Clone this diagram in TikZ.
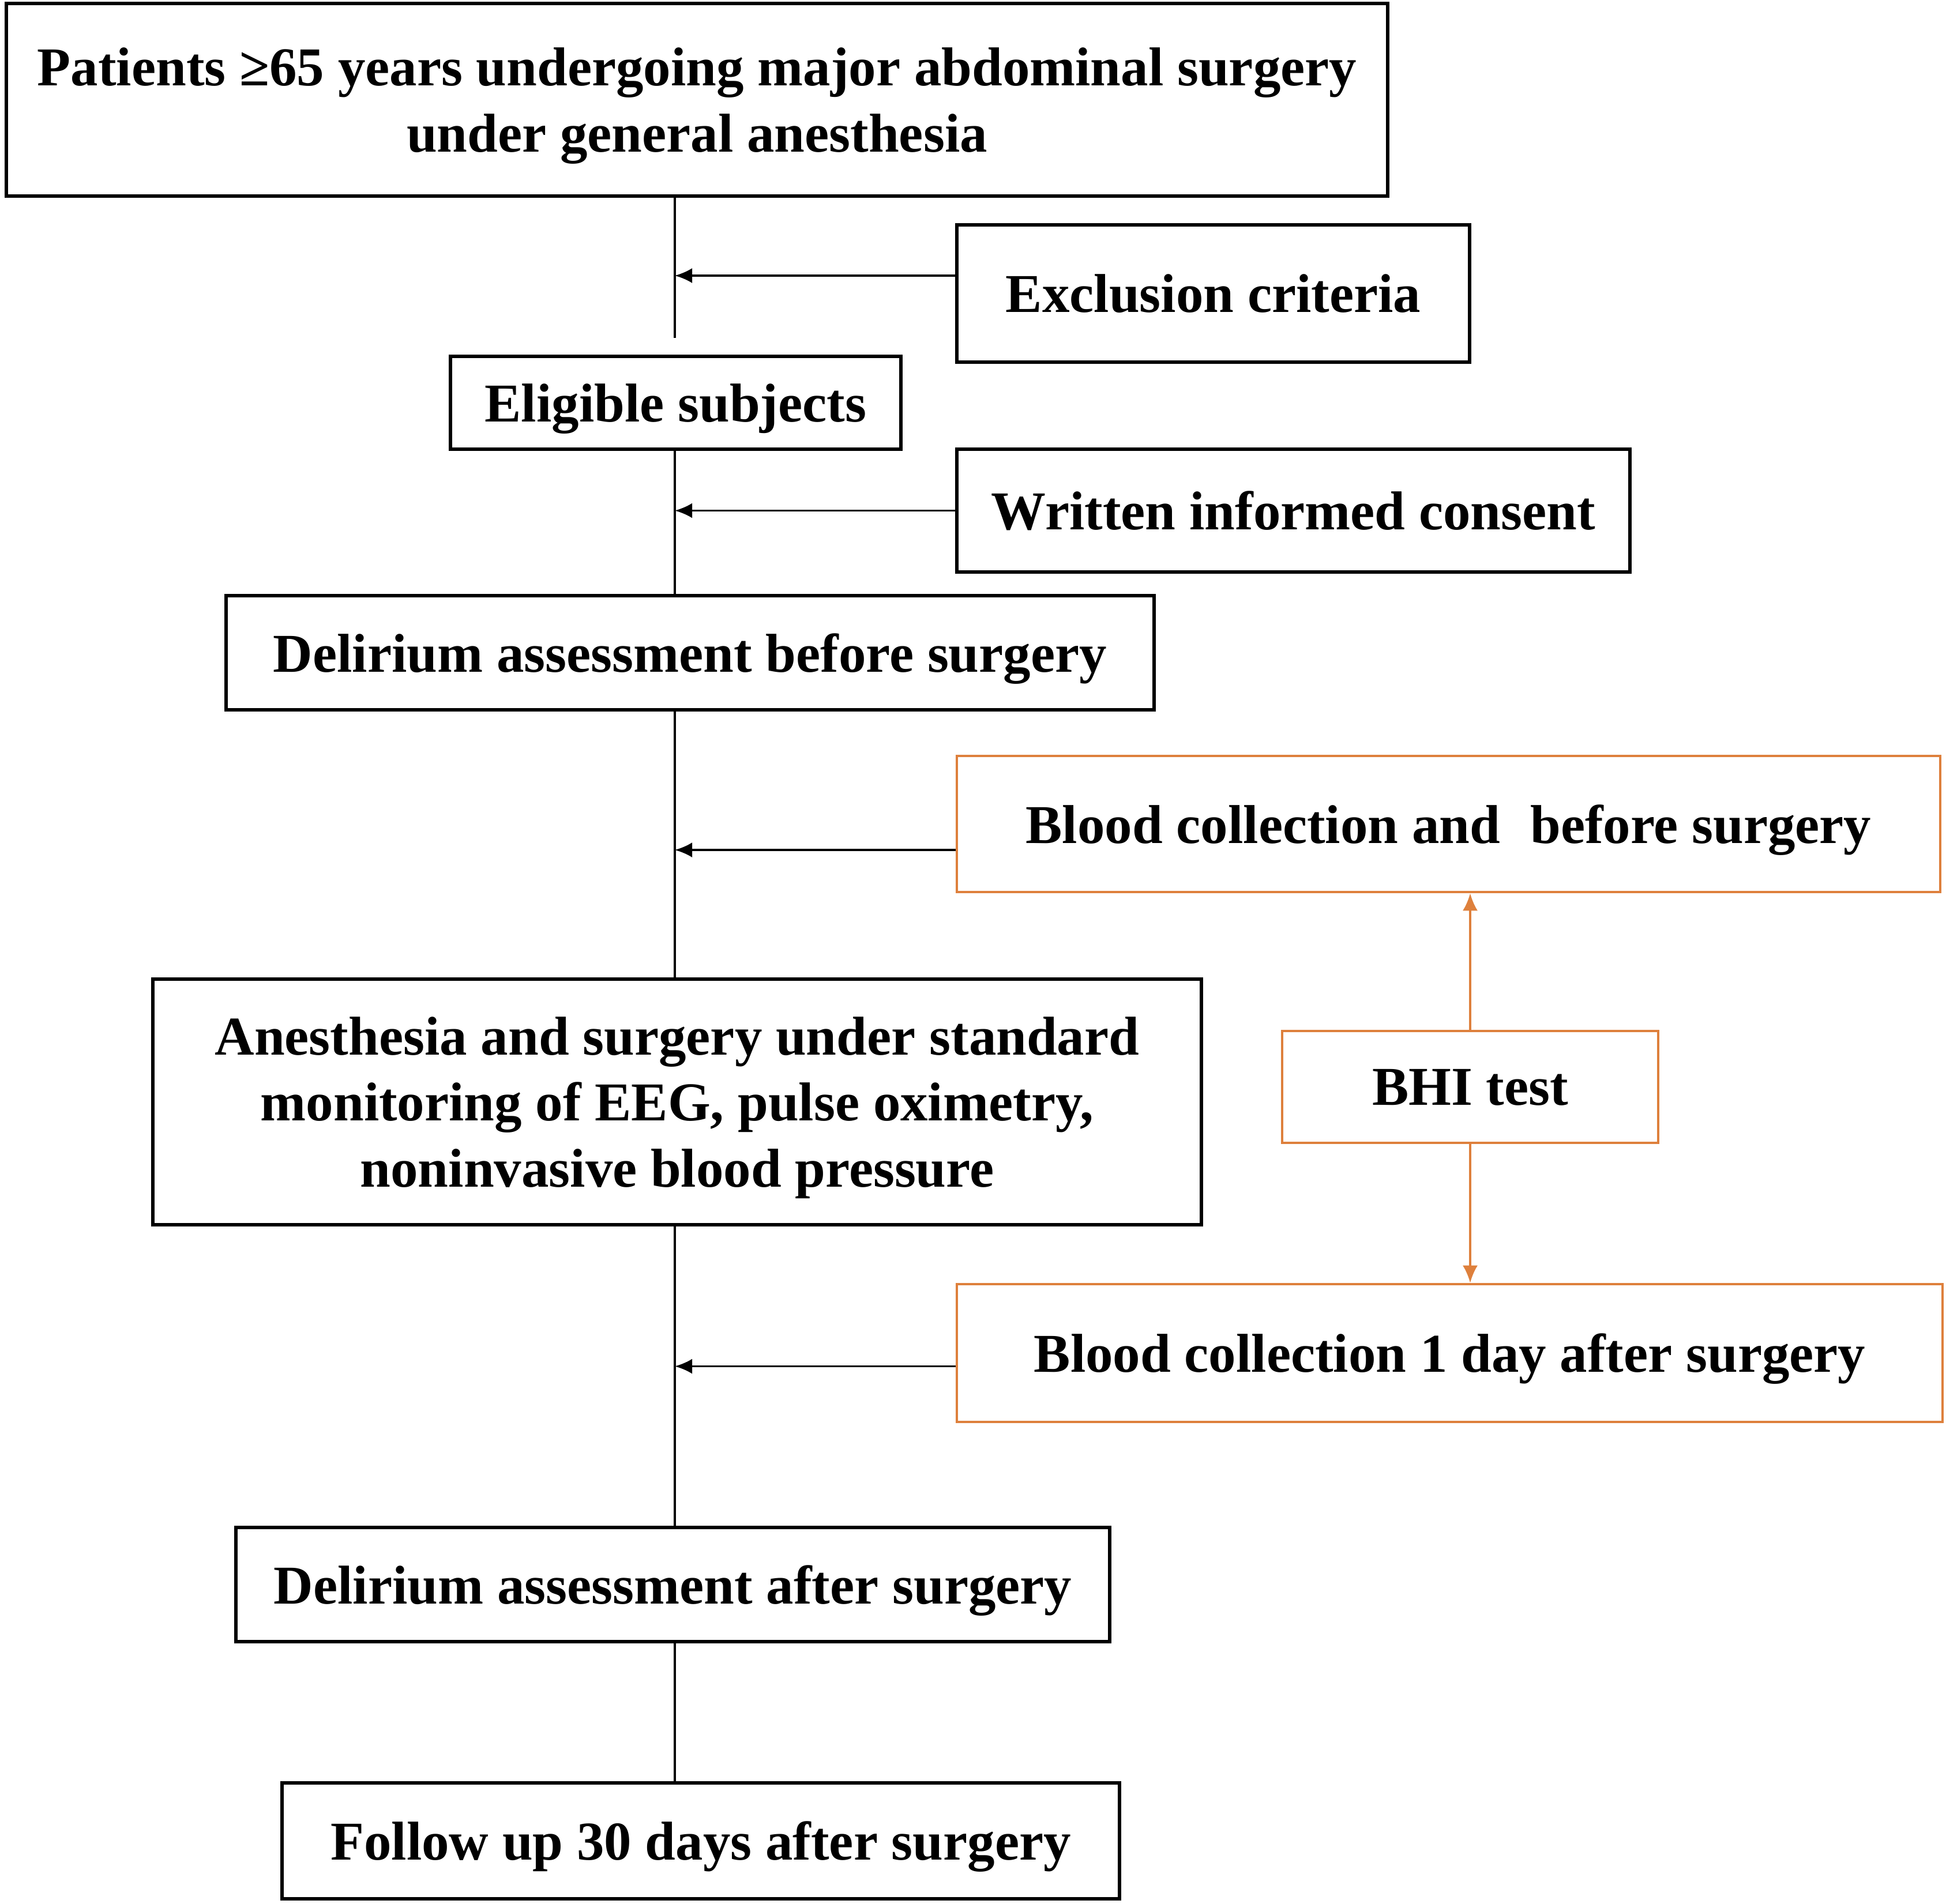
\documentclass[tikz,border=0pt]{standalone}
\usepackage{fontspec}
\setmainfont{Liberation Serif}
\usetikzlibrary{arrows.meta}
\definecolor{bhiorange}{RGB}{222,128,60}
\tikzset{box/.style={draw,line width=1.5pt,align=center,inner sep=0pt,text depth=0pt,
                     font=\fontsize{27}{32.5}\selectfont\bfseries},
         obox/.style={box,draw=bhiorange,line width=1.3pt},
         link/.style={draw,line width=1pt},
         arr/.style={link,-{Latex[length=3mm,width=2.6mm]}},
         oarr/.style={draw=bhiorange,line width=1pt,
                      -{Latex[length=3mm,width=2.6mm]}}}

\begin{document}
\begin{tikzpicture}
    \useasboundingbox (0,0) rectangle (33.74,-33.02);
    \coordinate (spine) at (11.70,0);
    % main column
    \node[box,minimum width=23.95cm,minimum height=3.34cm] (patients) at (12.085,-1.73)
        {Patients \char"2265 65 years undergoing major abdominal surgery\\under general anesthesia};
    \node[box,minimum width=7.81cm,minimum height=1.61cm] (eligible) at (11.715,-6.985)
        {Eligible subjects};
    \node[box,minimum width=16.09cm,minimum height=1.98cm] (delbefore) at (11.965,-11.32)
        {Delirium assessment before surgery};
    \node[box,minimum width=18.18cm,minimum height=4.26cm] (anesthesia) at (11.74,-19.11)
        {Anesthesia and surgery under standard\\monitoring of EEG, pulse oximetry,\\noninvasive blood pressure};
    \node[box,minimum width=15.15cm,minimum height=1.98cm] (delafter) at (11.665,-27.48)
        {Delirium assessment after surgery};
    \node[box,minimum width=14.52cm,minimum height=2.01cm] (followup) at (12.15,-31.925)
        {Follow up 30 days after surgery};
    % side column
    \node[box,minimum width=8.89cm,minimum height=2.38cm] (exclusion) at (21.035,-5.09)
        {Exclusion criteria};
    \node[box,minimum width=11.67cm,minimum height=2.13cm] (consent) at (22.425,-8.855)
        {Written informed consent};
    \node[obox,minimum width=17.05cm,minimum height=2.36cm] (bloodbefore) at (25.115,-14.29)
        {Blood collection and\hspace{0.3em} before surgery};
    \node[obox,minimum width=6.52cm,minimum height=1.94cm] (bhi) at (25.49,-18.85)
        {BHI test};
    \node[obox,minimum width=17.09cm,minimum height=2.39cm] (bloodafter) at (25.135,-23.465)
        {Blood collection 1 day after surgery};

    \draw[link,shorten >=2.9mm] (patients.south -| spine) -- (eligible.north -| spine);
    \draw[link] (eligible.south -| spine) -- (delbefore.north -| spine);
    \draw[link] (delbefore.south -| spine) -- (anesthesia.north -| spine);
    \draw[link] (anesthesia.south -| spine) -- (delafter.north -| spine);
    \draw[link] (delafter.south -| spine) -- (followup.north -| spine);

    \draw[arr] ([yshift=3.1mm]exclusion.west) -- ([yshift=3.1mm]exclusion.west -| spine);
    \draw[arr] (consent.west) -- (consent.west -| spine);
    \draw[arr] ([yshift=-4.5mm]bloodbefore.west) -- ([yshift=-4.5mm]bloodbefore.west -| spine);
    \draw[arr] ([yshift=-2.3mm]bloodafter.west) -- ([yshift=-2.3mm]bloodafter.west -| spine);

    \draw[oarr] (bhi.north) -- (bhi.north |- bloodbefore.south);
    \draw[oarr] (bhi.south) -- (bhi.south |- bloodafter.north);
\end{tikzpicture}
\end{document}
